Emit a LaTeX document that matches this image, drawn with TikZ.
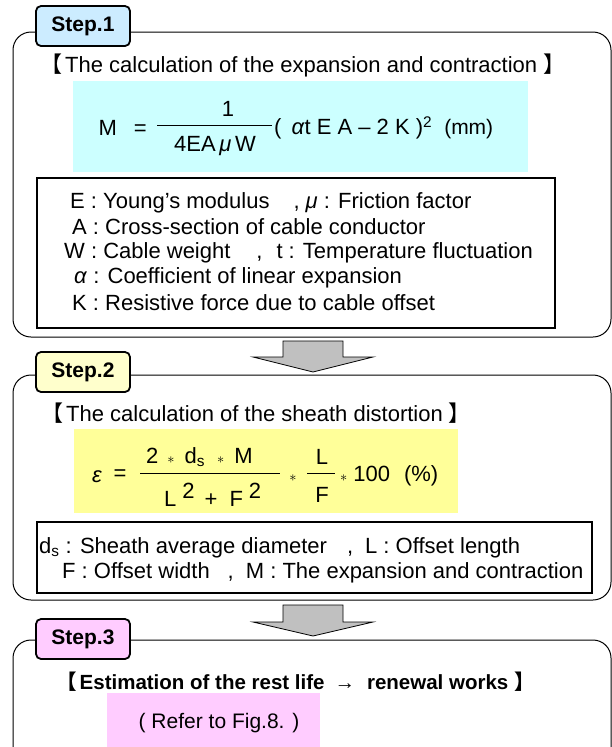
\documentclass[tikz,border=0pt]{standalone}
\usepackage{amsmath}
\usepackage{fontspec}
\setmainfont{Liberation Sans}
\newfontfamily\cjk{Noto Sans CJK JP}
\usetikzlibrary{positioning}

\definecolor{labblue}{HTML}{CCECFF}
\definecolor{labyellow}{HTML}{FFFFCC}
\definecolor{labpink}{HTML}{FFCCFF}
\definecolor{eqcyan}{HTML}{CCFFFF}
\definecolor{eqyellow}{HTML}{FFFF99}
\definecolor{arrowgray}{HTML}{C0C0C0}

\begin{document}
\begin{tikzpicture}[
    x=1pt, y=-1pt,
    font=\fontsize{22}{25}\selectfont,
    outer/.style={draw=black, line width=1pt, rounded corners=18pt},
    steplabel/.style={rectangle, draw=black, line width=1.8pt, rounded corners=5pt, minimum width=94pt, minimum height=40pt, inner sep=0pt, font=\fontsize{21}{25}\selectfont\bfseries},
    varbox/.style={draw=black, line width=1.3pt, fill=white},
    line/.style={anchor=west, inner sep=0pt},
    bar/.style={line width=0.9pt},
    blockarrow/.style={draw=black, line width=0.8pt, fill=arrowgray},
]
    \useasboundingbox (0,0) rectangle (612,747);
    \clip (0,0) rectangle (612,747);

    % Step 1
    \draw[outer] (13,32) rectangle (611,337);
    \node[steplabel, fill=labblue] (step1) at (83,26) {Step.1};
    \node[line] (head1) at (40,65) {{\cjk 【}\hspace{3pt}The calculation of the expansion and contraction {\cjk 】}};
    \fill[eqcyan] (73,81) rectangle (528,172);
    \node[anchor=east, inner sep=0pt] (eqM) at (147,128) {M\hspace{17pt}=};
    \node[inner sep=0pt] (eqnum) at (228,109) {1};
    \node[inner sep=0pt] (eqden) at (215,146) {4EA\,\textit{μ}\,W};
    \draw[bar] (157,125) -- (272,125);
    \node[line] (eqrest) at (274,128) {(\hspace{10pt}\textit{α}t E A – 2 K )\textsuperscript{2}\hspace{12pt}{\fontsize{21}{25}\selectfont (mm)}};
    \draw[varbox] (37,178) rectangle (555,328);
    \node[line] (var1a) at (70,203) {E : Young’s modulus\hspace{24pt},\hspace{6pt}\textit{μ} : Friction factor};
    \node[line] (var1b) at (72,227) {A : Cross-section of cable conductor};
    \node[line] (var1c) at (64,253) {W : Cable weight\hspace{26pt},\hspace{14pt}t\hspace{6pt}: Temperature fluctuation};
    \node[line] (var1d) at (74,278) {\textit{α} : Coefficient of linear expansion};
    \node[line] (var1e) at (72,303) {K : Resistive force due to cable offset};

    % arrows between the steps
    \foreach \ya/\yb/\yc in {341/357/372, 605/622/636}
        \draw[blockarrow] (283,\ya) -- (343,\ya) -- (343,\yb) -- (373,\yb) -- (313,\yc) -- (253,\yb) -- (283,\yb) -- cycle;

    % Step 2
    \draw[outer] (13,375) rectangle (611,600);
    \node[steplabel, fill=labyellow] (step2) at (83,372) {Step.2};
    \node[line] (head2) at (41,413) {{\cjk 【}\hspace{3pt}The calculation of the sheath distortion {\cjk 】}};
    \fill[eqyellow] (74,429) rectangle (458,513);
    \node[inner sep=0pt] (eqeps) at (97,477) {\textit{ε}};
    \node[inner sep=0pt] (eqeq) at (120,475) {=};
    \node[line] (eqtop) at (146,457) {2\hspace{9pt}{\fontsize{14}{14}\selectfont$\ast$}\hspace{10pt}d\textsubscript{s}\hspace{12pt}{\fontsize{14}{14}\selectfont$\ast$}\hspace{10pt}M};
    \node[line] (eqbot) at (164,495) {L\hspace{6pt}\raisebox{8pt}{2}\hspace{10pt}+\hspace{12pt}F\hspace{6pt}\raisebox{8pt}{2}};
    \draw[bar] (140,473) -- (280,473);
    \node[inner sep=0pt] (eqst1) at (293,478) {\fontsize{14}{14}\selectfont$\ast$};
    \node[inner sep=0pt] (eqL) at (322,457) {L};
    \node[inner sep=0pt] (eqF) at (322,495) {F};
    \draw[bar] (307,473) -- (335,473);
    \node[line] (eqhund) at (340,476) {{\fontsize{14}{14}\selectfont$\ast$}\hspace{6pt}100\hspace{14pt}(\%)};
    \draw[varbox] (37,522) rectangle (592,593);
    \node[line] (var2a) at (39,548) {d\textsubscript{s} : Sheath average diameter\hspace{20pt},\hspace{12pt}L : Offset length};
    \node[line] (var2b) at (62,573) {F : Offset width\hspace{18pt},\hspace{12pt}M : The expansion and contraction};

    % Step 3
    \draw[outer] (13,640) rectangle (611,780);
    \node[steplabel, fill=labpink] (step3) at (83,639) {Step.3};
    \node[line, font=\fontsize{20.5}{25}\selectfont\bfseries] (head3) at (56,682) {{\cjk 【}\hspace{3pt}Estimation of the rest life\hspace{10pt}→\hspace{12pt}renewal works {\cjk 】}};
    \fill[labpink] (107,693) rectangle (320,760);
    \node (refer) at (219,723) {\fontsize{21}{25}\selectfont ( Refer to Fig.8. )};
\end{tikzpicture}
\end{document}
